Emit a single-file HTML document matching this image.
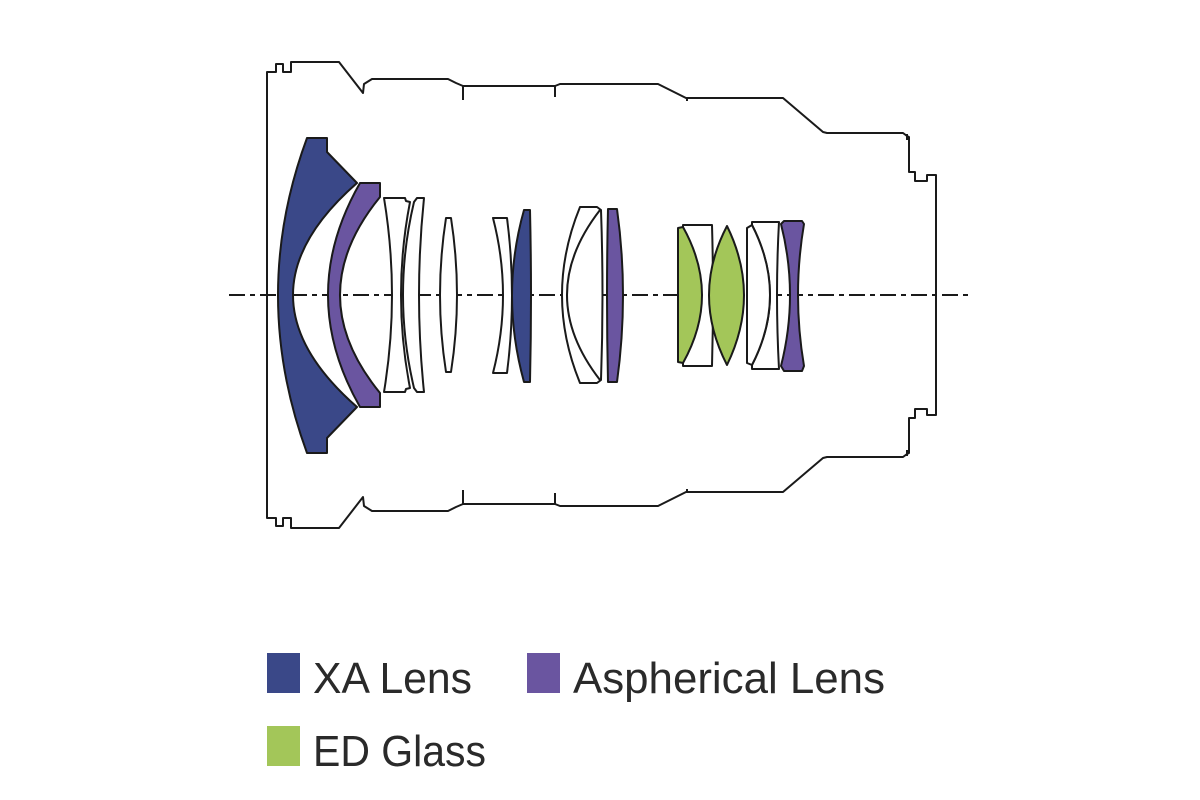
<!DOCTYPE html>
<html><head><meta charset="utf-8"><style>
html,body{margin:0;padding:0;background:#fff;}
svg{display:block;}
</style></head><body>
<svg width="1200" height="800" viewBox="0 0 1200 800" xmlns="http://www.w3.org/2000/svg">
<g fill="none" stroke="#1a1a1a" stroke-width="2" stroke-linejoin="round">
<path d="M267,295 L267,72 L276,72 L276,64 L283,64 L283,72 L291,72 L291,62 L339,62 L363,93 L364,84 L372,79 L448,79 L456,83 L463,86 L555,86 L560,84 L658,84 L686,98 L783,98 L823,132 L827,133 L903,133 L907,136 L909,137 L909,172 L915,172 L915,181 L927,181 L927,175 L936,175 L936,295"/>
<path d="M267,295 L267,518 L276,518 L276,526 L283,526 L283,518 L291,518 L291,528 L339,528 L363,497 L364,506 L372,511 L448,511 L456,507 L463,504 L555,504 L560,506 L658,506 L686,492 L783,492 L823,458 L827,457 L903,457 L907,454 L909,453 L909,418 L915,418 L915,409 L927,409 L927,415 L936,415 L936,295"/>
<path d="M463,86 L463,100 M555,85 L555,97 M687,98 L687,101 M463,504 L463,490 M555,505 L555,493 M687,492 L687,489 M907,134 L907,140 M907,456 L907,450"/>
</g>
<line x1="229" y1="295" x2="968" y2="295" stroke="#1a1a1a" stroke-width="2" stroke-dasharray="16,5,5,5"/>
<g stroke="#1a1a1a" stroke-width="2" stroke-linejoin="round">
<path fill="#3a4888" d="M307,138 L327,138 L327,152 L357,183 Q229,295 357,407 L327,438 L327,453 L307,453 Q249,295 307,138 Z"/>
<path fill="#6a55a0" d="M360,183 L380,183 L380,197 Q300,295 380,393 L380,407 L360,407 Q296,295 360,183 Z"/>
<path fill="#fff" d="M384,198 L405,198 L406,201 L410,202 Q392,295 410,388 L406,389 L405,392 L384,392 Q400,295 384,198 Z"/>
<path fill="#fff" d="M417,198 L424,198 Q414,295 424,392 L417,392 L414,388 Q392,295 414,202 Z"/>
<path fill="#fff" d="M446,218 L451,218 Q463,295 451,372 L446,372 Q434,295 446,218 Z"/>
<path fill="#fff" d="M493,218 L507,218 Q517,295 507,373 L493,373 Q513,295 493,218 Z"/>
<path fill="#3a4888" d="M524,210 L530,210 Q532,295 530,382 L524,382 Q500,295 524,210 Z"/>
<path fill="#fff" d="M580,207 L597,207 L601,210 Q604,295 601,380 L597,383 L580,383 Q544,295 580,207 Z"/>
<path fill="none" d="M600,210 Q534,295 600,380"/>
<path fill="#6a55a0" d="M608,209 L617,209 Q629,295 617,382 L608,382 Q606,295 608,209 Z"/>
<path fill="#fff" d="M683,225 L712,225 Q714,295 712,366 L683,366 Z"/>
<path fill="#a3c659" d="M678,228 L683,227 Q721,295 683,363 L678,362 Z"/>
<path fill="#a3c659" d="M727,226 Q761,295 727,365 Q691,295 727,226 Z"/>
<path fill="#fff" d="M752,222 L779,222 Q775,295 779,369 L752,369 L752,365 Q788,295 752,225 Z"/>
<path fill="#fff" d="M747,228 L752,225 Q788,295 752,365 L747,363 Z"/>
<path fill="#6a55a0" d="M784,221 L802,221 L804,224 Q792,295 804,366 L802,371 L784,371 L781,366 Q799,295 781,224 Z"/>
</g>
<g font-family="'Liberation Sans', sans-serif" font-size="44" fill="#2a2a2a">
<rect x="267" y="653" width="33" height="40" fill="#3a4888"/>
<text x="313" y="693" textLength="159" lengthAdjust="spacingAndGlyphs">XA Lens</text>
<rect x="527" y="653" width="33" height="40" fill="#6a55a0"/>
<text x="573" y="693" textLength="312" lengthAdjust="spacingAndGlyphs">Aspherical Lens</text>
<rect x="267" y="726" width="33" height="40" fill="#a3c659"/>
<text x="313" y="766" textLength="173" lengthAdjust="spacingAndGlyphs">ED Glass</text>
</g>
</svg>
</body></html>
